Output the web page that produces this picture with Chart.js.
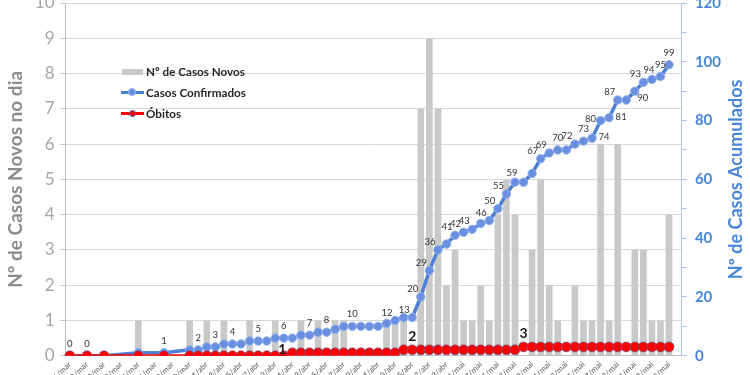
<!DOCTYPE html>
<html>
<head>
<meta charset="utf-8">
<script src="https://cdn.jsdelivr.net/npm/chart.js@4.4.0/dist/chart.umd.min.js"></script>
<style>
html, body { margin:0; padding:0; background:#fff; overflow:hidden; width:750px; height:375px; }
#wrap { position:absolute; left:0; top:-14px; width:750px; height:403px; }
#legend { position:absolute; left:121px; top:61px; font:bold 11.7px Lato, sans-serif; color:#262626; }
.row { position:relative; height:21px; line-height:21px; padding-left:25px; white-space:nowrap; }
.bar { position:absolute; left:1px; top:8px; width:21px; height:6px; background:#c9c9c9; }
.ln { position:absolute; left:0; top:9px; width:23px; height:3px; }
.dot { position:absolute; left:7px; top:6px; width:8px; height:8px; border-radius:50%; box-sizing:border-box; }
</style>
</head>
<body>
<div id="wrap"><canvas id="chart"></canvas></div>
<div id="legend">
  <div class="row"><span class="bar"></span>Nº de Casos Novos</div>
  <div class="row"><span class="ln" style="background:#4a7fd4"></span><span class="dot" style="background:#6a8fe0;border:1px solid #8db1ee"></span>Casos Confirmados</div>
  <div class="row"><span class="ln" style="background:#ff0000"></span><span class="dot" style="background:#ff0000;border:1px solid #3d6fb0;width:7px;height:7px;left:8px;top:7px"></span>Óbitos</div>
</div>
<script>
// dias de 16/mar a 26/mai
const days = [
  '16/mar','17/mar','18/mar','19/mar','20/mar','21/mar','22/mar','23/mar','24/mar','25/mar',
  '26/mar','27/mar','28/mar','29/mar','30/mar','31/mar','1/abr','2/abr','3/abr','4/abr',
  '5/abr','6/abr','7/abr','8/abr','9/abr','10/abr','11/abr','12/abr','13/abr','14/abr',
  '15/abr','16/abr','17/abr','18/abr','19/abr','20/abr','21/abr','22/abr','23/abr','24/abr',
  '25/abr','26/abr','27/abr','28/abr','29/abr','30/abr','1/mai','2/mai','3/mai','4/mai',
  '5/mai','6/mai','7/mai','8/mai','9/mai','10/mai','11/mai','12/mai','13/mai','14/mai',
  '15/mai','16/mai','17/mai','18/mai','19/mai','20/mai','21/mai','22/mai','23/mai','24/mai',
  '25/mai','26/mai'
];

const newCases = [
  0, null, 0, null, 0, null, null, null, 1, null,
  null, 0, null, null, 1, 0, 1, 0, 1, 0,
  0, 1, 0, 0, 1, 0, 0, 1, 0, 1,
  0, 1, 1, 0, 0, 0, 0, 1, 1, 1,
  0, 7, 9, 7, 2, 3, 1, 1, 2, 1,
  4, 5, 4, 0, 3, 5, 2, 1, 0, 2,
  1, 1, 6, 1, 6, 0, 3, 3, 1, 1,
  4, null
];

const confirmed = [
  0, null, 0, null, 0, null, null, null, 1, null,
  null, 1, null, null, 2, 2, 3, 3, 4, 4,
  4, 5, 5, 5, 6, 6, 6, 7, 7, 8,
  8, 9, 10, 10, 10, 10, 10, 11, 12, 13,
  13, 20, 29, 36, 38, 41, 42, 43, 45, 46,
  50, 55, 59, 59, 62, 67, 69, 70, 70, 72,
  73, 74, 80, 81, 87, 87, 90, 93, 94, 95,
  99, null
];

const deaths = [
  0, null, 0, null, 0, null, null, null, 0, null,
  null, 0, null, null, 0, 0, 0, 0, 0, 0,
  0, 0, 0, 0, 0, 0, 1, 1, 1, 1,
  1, 1, 1, 1, 1, 1, 1, 1, 1, 2,
  2, 2, 2, 2, 2, 2, 2, 2, 2, 2,
  2, 2, 2, 3, 3, 3, 3, 3, 3, 3,
  3, 3, 3, 3, 3, 3, 3, 3, 3, 3,
  3, null
];

// pontos que levam rotulo
const confirmedLabelDays = [0, 2, 11, 15, 17, 19, 22, 25, 28, 30, 33, 38, 40, 41, 42, 43, 45, 46, 47,
  49, 50, 51, 52, 55, 56, 57, 59, 60, 61, 62, 63, 64, 66, 67, 68, 69, 70];
const deathLabelDays = [26, 40, 53];

const pointLabels = {
  id: 'pointLabels',
  afterDatasetsDraw(chart, args, opts) {
    const ctx = chart.ctx;
    ctx.save();
    ctx.textAlign = 'center';
    ctx.textBaseline = 'middle';
    ctx.font = '9.5px Lato, sans-serif';
    ctx.fillStyle = '#333333';
    const cm = chart.getDatasetMeta(1);
    confirmedLabelDays.forEach(i => {
      const p = cm.data[i];
      const v = confirmed[i];
      let dx = -8, dy = -8;
      if (v <= 10 || opts.above.includes(i)) { dx = 0; dy = -12; }
      if (opts.aboveLeft.includes(i)) { dx = -3; dy = -9; }
      if (opts.left.includes(i)) { dx = -10; dy = -2; }
      if (opts.right.includes(i)) { dx = 12; dy = -1; }
      if (opts.below.includes(i)) { dx = 8; dy = 7; }
      ctx.fillText(String(v), p.x + dx, p.y + dy);
    });
    ctx.font = 'bold 14px Lato, sans-serif';
    ctx.fillStyle = '#1a1a1a';
    const dm = chart.getDatasetMeta(2);
    deathLabelDays.forEach((i, k) => {
      const p = dm.data[i];
      if (k === 0) ctx.fillText(String(deaths[i]), p.x - 10, p.y - 3);
      else ctx.fillText(String(deaths[i]), p.x, p.y - 13);
    });
    ctx.restore();
  }
};

// titulo do eixo direito, lido de baixo para cima
const rightTitle = {
  id: 'rightTitle',
  afterDraw(chart) {
    const ctx = chart.ctx;
    const a = chart.chartArea;
    ctx.save();
    ctx.translate(736, (a.top + a.bottom) / 2);
    ctx.rotate(-Math.PI / 2);
    ctx.textAlign = 'center';
    ctx.textBaseline = 'middle';
    ctx.font = 'bold 18px Lato, sans-serif';
    ctx.fillStyle = '#4a86d8';
    ctx.fillText('Nº de Casos Acumulados', 0, 0);
    ctx.restore();
  }
};

new Chart(document.getElementById('chart'), {
  type: 'bar',
  data: {
    labels: days,
    datasets: [
      {
        type: 'bar',
        label: 'Nº de Casos Novos',
        data: newCases,
        yAxisID: 'y',
        backgroundColor: '#c9c9c9',
        categoryPercentage: 1,
        barPercentage: 0.78,
        order: 3
      },
      {
        type: 'line',
        label: 'Casos Confirmados',
        data: confirmed,
        yAxisID: 'y1',
        borderColor: '#4a7fd4',
        borderWidth: 3.5,
        pointRadius: 4.2,
        pointBackgroundColor: '#6a8fe0',
        pointBorderColor: '#8db1ee',
        pointBorderWidth: 1,
        spanGaps: true,
        tension: 0,
        order: 2
      },
      {
        type: 'line',
        label: 'Óbitos',
        data: deaths,
        yAxisID: 'y1',
        borderColor: '#ff0000',
        borderWidth: 3,
        pointRadius: 5,
        pointBackgroundColor: '#ff0000',
        pointBorderColor: 'rgba(61,111,176,0.7)',
        pointBorderWidth: 0.8,
        spanGaps: true,
        tension: 0,
        order: 1
      }
    ]
  },
  options: {
    responsive: true,
    maintainAspectRatio: false,
    animation: false,
    layout: { padding: { left: 0, right: 21, top: 0, bottom: 0 } },
    plugins: {
      legend: { display: false },
      tooltip: { enabled: false },
      pointLabels: {
        above: [57, 60, 69, 70],
        aboveLeft: [52, 68],
        left: [62],
        right: [61, 63],
        below: [66]
      }
    },
    scales: {
      x: {
        type: 'category',
        offset: true,
        grid: { display: false, drawTicks: false },
        border: { display: true, color: '#bfbfbf', width: 1 },
        ticks: {
          autoSkip: false,
          maxRotation: 45,
          minRotation: 45,
          padding: 4,
          color: '#595959',
          font: { family: 'Lato', size: 8 },
          callback: (v, i) => (i % 2 === 0 ? days[i] : '')
        }
      },
      y: {
        position: 'left',
        min: 0,
        max: 10,
        ticks: { stepSize: 1, color: '#a6a6a6', padding: 6, font: { family: 'Lato', size: 17 } },
        grid: { color: '#d9d9d9', tickColor: '#bfbfbf', tickLength: 5 },
        border: { color: '#bfbfbf' },
        title: {
          display: true,
          text: 'Nº de Casos Novos no dia',
          color: '#8c8c8c',
          font: { family: 'Lato', size: 19, weight: 'bold' },
          padding: { top: 4, bottom: 2 }
        }
      },
      y1: {
        position: 'right',
        min: 0,
        max: 120,
        ticks: {
          stepSize: 10,
          color: '#4a86d8',
          padding: 8,
          font: { family: 'Lato', size: 15, weight: 'bold' },
          callback: v => (v % 20 === 0 ? v : '')
        },
        grid: { drawOnChartArea: false, tickColor: '#a9c6ee', tickLength: 5 },
        border: { color: '#a9c6ee' }
      }
    }
  },
  plugins: [pointLabels, rightTitle]
});
</script>
</body>
</html>
